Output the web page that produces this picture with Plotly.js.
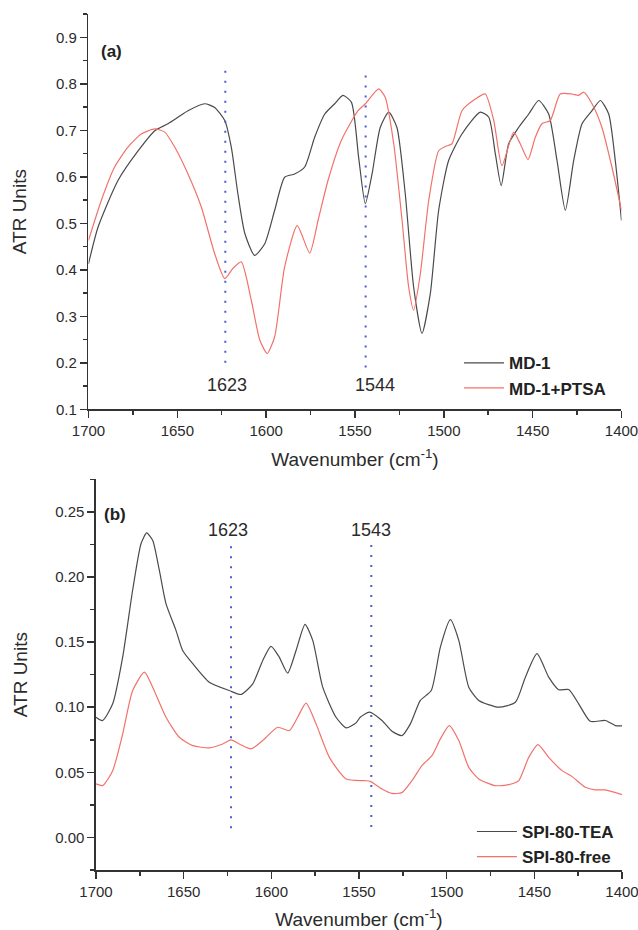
<!DOCTYPE html>
<html>
<head>
<meta charset="utf-8">
<script src="https://cdn.plot.ly/plotly-3.0.1.min.js"></script>
<style>html,body{margin:0;padding:0;background:#fff;}#chart{width:638px;height:930px;}</style>
</head>
<body>
<div id="chart"></div>
<script>
// ---- Panel (a) data ----
const md1Wavenumber = [1700, 1694.6, 1683.4, 1672, 1662.7, 1655.3, 1649.6, 1644, 1634.6, 1629, 1623.3, 1619.6, 1615.9, 1612, 1606.5, 1600.8, 1595.2, 1589.6, 1584, 1578.3, 1572.7, 1567, 1561.4, 1556.8, 1552, 1547.9, 1544.2, 1540.4, 1535.8, 1531, 1526.4, 1521.7, 1517, 1512.3, 1507.6, 1502.9, 1497.3, 1489.8, 1479.5, 1474.7, 1471, 1467.7, 1463.5, 1457.9, 1452.2, 1446.6, 1441, 1436.3, 1431.6, 1426.9, 1422.2, 1416.6, 1411.9, 1407.2, 1403.5, 1400];
const md1Values = [0.413, 0.492, 0.592, 0.656, 0.699, 0.714, 0.728, 0.742, 0.757, 0.749, 0.721, 0.663, 0.563, 0.478, 0.431, 0.456, 0.528, 0.599, 0.606, 0.621, 0.685, 0.735, 0.757, 0.775, 0.760, 0.640, 0.542, 0.606, 0.706, 0.739, 0.706, 0.563, 0.363, 0.263, 0.349, 0.528, 0.635, 0.692, 0.739, 0.728, 0.649, 0.581, 0.671, 0.706, 0.735, 0.764, 0.735, 0.635, 0.528, 0.635, 0.714, 0.742, 0.764, 0.735, 0.635, 0.506];

const md1PtsaWavenumber = [1700, 1692.8, 1685.3, 1677.8, 1670.3, 1662.7, 1657.1, 1651.5, 1644, 1636.5, 1629, 1623.3, 1618.7, 1614, 1608.4, 1603.6, 1599.4, 1595.2, 1589.6, 1582.5, 1575.5, 1570.8, 1565.2, 1557.7, 1548.3, 1544.2, 1536.7, 1533, 1528.2, 1523.5, 1519.8, 1517, 1513.2, 1508.5, 1502.9, 1499.2, 1495.4, 1489.8, 1482.3, 1476.7, 1471.9, 1467.3, 1460.7, 1457, 1452.6, 1448.5, 1444.8, 1440.1, 1434.5, 1427.9, 1424.1, 1421.3, 1416.6, 1411, 1405.4, 1400];
const md1PtsaValues = [0.463, 0.549, 0.621, 0.664, 0.692, 0.703, 0.696, 0.664, 0.606, 0.535, 0.435, 0.381, 0.403, 0.417, 0.335, 0.249, 0.220, 0.256, 0.406, 0.495, 0.436, 0.506, 0.592, 0.678, 0.742, 0.757, 0.789, 0.771, 0.671, 0.506, 0.363, 0.313, 0.392, 0.549, 0.656, 0.665, 0.671, 0.742, 0.767, 0.778, 0.721, 0.624, 0.696, 0.671, 0.637, 0.685, 0.714, 0.721, 0.778, 0.778, 0.775, 0.782, 0.757, 0.706, 0.621, 0.528];

const guideWavenumberA = [1623, 1544];
const guideTopA = [0.845, 0.833];
const guideBottomA = [0.2, 0.19];

// ---- Panel (b) data ----
const teaWavenumber = [1700, 1696.2, 1690.5, 1684.8, 1679.1, 1674.3, 1671.1, 1667.7, 1663.9, 1660.1, 1654.4, 1650.6, 1644.8, 1635.4, 1624, 1617.3, 1610.6, 1604.9, 1600.2, 1595.5, 1590.7, 1585.9, 1580.8, 1576.4, 1570.7, 1563.1, 1557.4, 1551.7, 1549.3, 1544.1, 1536.9, 1531.2, 1525.5, 1520.7, 1515, 1508.8, 1503.6, 1497.9, 1493.1, 1487.4, 1481.7, 1470.3, 1460.8, 1455.1, 1448.5, 1441.8, 1436.1, 1430.4, 1424.7, 1418.1, 1409.5, 1403.8, 1400];
const teaValues = [0.0923, 0.0898, 0.1026, 0.1385, 0.190, 0.2257, 0.2338, 0.2282, 0.2052, 0.1795, 0.159, 0.1436, 0.1334, 0.1192, 0.1128, 0.1098, 0.118, 0.1359, 0.1467, 0.1385, 0.1262, 0.1436, 0.1636, 0.1513, 0.1154, 0.0923, 0.0842, 0.088, 0.0923, 0.0962, 0.0898, 0.0815, 0.0782, 0.0872, 0.1052, 0.1128, 0.1462, 0.1672, 0.1513, 0.1154, 0.1052, 0.100, 0.1038, 0.1231, 0.1411, 0.1231, 0.1134, 0.1136, 0.1026, 0.0892, 0.0898, 0.0859, 0.0857];

const freeWavenumber = [1700, 1696.2, 1690.5, 1684.8, 1679.1, 1672.4, 1667.7, 1660.1, 1652.5, 1644.8, 1635.4, 1627.7, 1623, 1618.3, 1611.6, 1604.9, 1596.4, 1589.7, 1585, 1580.2, 1574.5, 1566.9, 1557.4, 1546.9, 1543.6, 1536.9, 1531.2, 1525.5, 1519.8, 1514.1, 1508.4, 1503.6, 1498.5, 1493.1, 1487.4, 1481.7, 1472.3, 1464.6, 1458.9, 1453.2, 1447.9, 1441.8, 1434.2, 1428.5, 1420.9, 1415.2, 1409.5, 1400];
const freeValues = [0.0411, 0.0398, 0.0513, 0.0795, 0.1128, 0.1269, 0.1154, 0.0923, 0.0769, 0.0705, 0.0688, 0.0718, 0.0749, 0.0718, 0.068, 0.0744, 0.0846, 0.0821, 0.0923, 0.1031, 0.0872, 0.0615, 0.0449, 0.0436, 0.0431, 0.0372, 0.0338, 0.0344, 0.0436, 0.0552, 0.0628, 0.0757, 0.0859, 0.0744, 0.0538, 0.0449, 0.0398, 0.0405, 0.0436, 0.0615, 0.0713, 0.0615, 0.0513, 0.0467, 0.0385, 0.0365, 0.0365, 0.0328];

const guideWavenumberB = [1623, 1543];
const guideTopB = [0.226, 0.226];
const guideBottomB = [0.007, 0.008];

const seriesNamesA = ['MD-1', 'MD-1+PTSA'];
const seriesNamesB = ['SPI-80-TEA', 'SPI-80-free'];

// ---- styles ----
const FONT = 'Liberation Sans, Arial, sans-serif';
const TEXT = '#2b2b2b';
const BLACK = '#4a4a4a';
const RED = '#f2726b';
const BLUE = '#4a5cd6';

const traces = [];
function curve(x, y, name, color, xa, ya, legend) {
  return {x: x, y: y, name: name, type: 'scatter', mode: 'lines',
    line: {color: color, width: 1.2, shape: 'spline', smoothing: 0.6},
    xaxis: xa, yaxis: ya, legend: legend, hoverinfo: 'skip'};
}
traces.push(curve(md1Wavenumber, md1Values, seriesNamesA[0], BLACK, 'x', 'y', 'legend'));
traces.push(curve(md1PtsaWavenumber, md1PtsaValues, seriesNamesA[1], RED, 'x', 'y', 'legend'));
traces.push(curve(teaWavenumber, teaValues, seriesNamesB[0], BLACK, 'x2', 'y2', 'legend2'));
traces.push(curve(freeWavenumber, freeValues, seriesNamesB[1], RED, 'x2', 'y2', 'legend2'));

function guides(ws, tops, bottoms, xa, ya) {
  ws.forEach((w, i) => {
    traces.push({x: [w, w], y: [bottoms[i], tops[i]], type: 'scatter', mode: 'lines',
      line: {color: BLUE, width: 2, dash: '2px,8px'}, xaxis: xa, yaxis: ya,
      showlegend: false, hoverinfo: 'skip'});
  });
}
guides(guideWavenumberA, guideTopA, guideBottomA, 'x', 'y');
guides(guideWavenumberB, guideTopB, guideBottomB, 'x2', 'y2');

function xAxis(domain, anchor, standoff) {
  return {domain: domain, anchor: anchor, range: [1700, 1400], tick0: 1400, dtick: 50,
    showline: true, linecolor: '#333', linewidth: 1.6, mirror: false,
    ticks: 'outside', ticklen: 7, tickwidth: 1.5, tickcolor: '#333',
    minor: {ticks: 'outside', ticklen: 4, tickwidth: 1.5, tickcolor: '#333', dtick: 25, showgrid: false},
    showgrid: false, zeroline: false, ticklabeloverflow: 'allow',
    tickfont: {family: FONT, size: 15, color: TEXT},
    title: {text: 'Wavenumber (cm<sup>-1</sup>)', font: {family: FONT, size: 19, color: TEXT}, standoff: standoff}};
}
function yAxis(domain, anchor, range, tick0, dtick, minorDtick, fmt, standoff) {
  return {domain: domain, anchor: anchor, range: range, tick0: tick0, dtick: dtick, tickformat: fmt,
    showline: true, linecolor: '#333', linewidth: 1.6,
    ticks: 'outside', ticklen: 7, tickwidth: 1.5, tickcolor: '#333',
    minor: {ticks: 'outside', ticklen: 4, tickwidth: 1.5, tickcolor: '#333', dtick: minorDtick, showgrid: false},
    showgrid: false, zeroline: false,
    tickfont: {family: FONT, size: 15, color: TEXT},
    title: {text: 'ATR Units', font: {family: FONT, size: 19, color: TEXT}, standoff: standoff}};
}

const legendStyle = {bgcolor: 'rgba(0,0,0,0)', borderwidth: 0, xanchor: 'left', yanchor: 'top',
  font: {family: FONT, size: 17, color: '#222', weight: 'bold'}, itemwidth: 40, tracegroupgap: 0};

const annotations = [
  {text: '(a)', xref: 'x domain', yref: 'y domain', x: 0.02, y: 0.904, xanchor: 'left', yanchor: 'middle', showarrow: false, font: {family: FONT, size: 17, color: '#222', weight: 'bold'}},
  {text: '(b)', xref: 'x2 domain', yref: 'y2 domain', x: 0.011, y: 0.909, xanchor: 'left', yanchor: 'middle', showarrow: false, font: {family: FONT, size: 17, color: '#222', weight: 'bold'}},
  {text: String(guideWavenumberA[0]), xref: 'x', yref: 'y', x: guideWavenumberA[0], y: 0.153, xshift: 2, showarrow: false, font: {family: FONT, size: 18, color: TEXT}},
  {text: String(guideWavenumberA[1]), xref: 'x', yref: 'y', x: guideWavenumberA[1], y: 0.153, xshift: 9, showarrow: false, font: {family: FONT, size: 18, color: TEXT}},
  {text: String(guideWavenumberB[0]), xref: 'x2', yref: 'y2', x: guideWavenumberB[0], y: 0.236, xshift: -3, showarrow: false, font: {family: FONT, size: 18, color: TEXT}},
  {text: String(guideWavenumberB[1]), xref: 'x2', yref: 'y2', x: guideWavenumberB[1], y: 0.236, showarrow: false, font: {family: FONT, size: 18, color: TEXT}}
];

const layout = {
  width: 638, height: 930,
  margin: {l: 60, r: 16, t: 14, b: 60},
  paper_bgcolor: '#fff', plot_bgcolor: '#fff',
  font: {family: FONT, color: TEXT},
  showlegend: true,
  xaxis: xAxis([0.0507, 0.9991], 'y', 15),
  yaxis: yAxis([0.5382, 1.0], 'x', [0.1, 0.95], 0.1, 0.1, 0.05, '.1f', 24),
  xaxis2: xAxis([0.0641, 1.0], 'y2', 16),
  yaxis2: yAxis([0.0, 0.4564], 'x2', [-0.025, 0.275], 0, 0.05, 0.025, '.2f', 22),
  legend: Object.assign({}, legendStyle, {x: 0.71, y: 0.613}),
  legend2: Object.assign({}, legendStyle, {x: 0.733, y: 0.0655}),
  annotations: annotations
};

Plotly.newPlot('chart', traces, layout, {displayModeBar: false, staticPlot: true});
</script>
</body>
</html>
